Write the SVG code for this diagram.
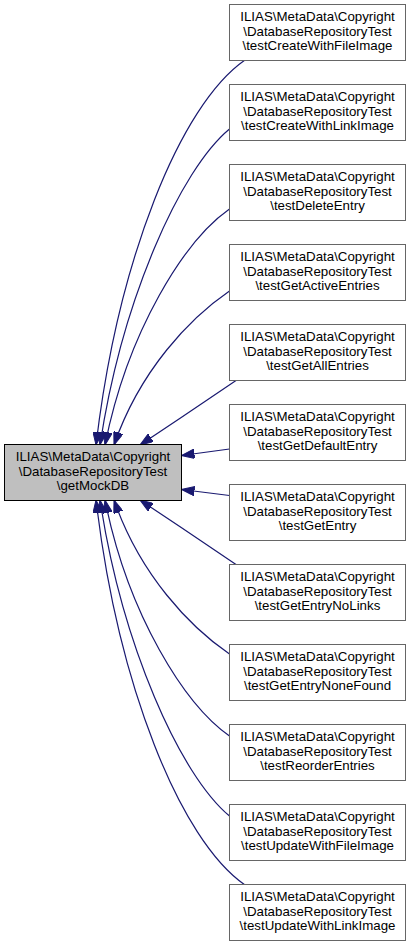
<svg xmlns="http://www.w3.org/2000/svg" width="412" height="947" viewBox="0 0 412 947">
<style>
.n rect{fill:#ffffff;stroke:#666666;stroke-width:1}
.cur rect{fill:#bfbfbf;stroke:#000000;stroke-width:1}
text{font-family:"Liberation Sans",Arial,sans-serif;font-size:13.3px;fill:#000;text-anchor:middle}
.e path{fill:none;stroke:#191970;stroke-width:1.2;marker-end:url(#ah)}
</style>
<defs>
<marker id="ah" viewBox="0 0 13 9.4" refX="13" refY="4.7" markerWidth="13" markerHeight="9.4" markerUnits="userSpaceOnUse" orient="auto">
<path d="M0,0 L13,4.7 L0,9.4 z" fill="#191970" stroke="#191970" stroke-width="1"/>
</marker>
</defs>
<rect width="412" height="947" fill="#ffffff"/>
<g id="edges" class="e">
<path d="M245,60 C180,105 118,260 96,445"/>
<path d="M229.5,129 C180,170 122,300 100,445"/>
<path d="M229.5,209 C185,240 128,330 105,445"/>
<path d="M229.5,291 C190,318 140,370 114,445"/>
<path d="M236,380.5 C210,398 170,425 140,445"/>
<path d="M229.5,449 L181.5,455.5"/>
<path d="M229.5,495.5 L181.5,489.5"/>
<path d="M236,564.5 C210,547 170,520 140,500"/>
<path d="M229.5,654 C190,627 140,575 114,500"/>
<path d="M229.5,736 C185,705 128,615 105,500"/>
<path d="M229.5,816 C180,775 122,645 100,500"/>
<path d="M245,885 C180,840 118,685 96,500"/>
</g>
<g id="getMockDB" class="cur">
<rect x="4.5" y="444.5" width="177" height="56"/>
<text x="93" y="461">ILIAS\MetaData\Copyright</text>
<text x="93" y="475.5">\DatabaseRepositoryTest</text>
<text x="93" y="490">\getMockDB</text>
</g>
<g id="n0" class="n">
<rect x="229.5" y="4.5" width="176" height="56"/>
<text x="317.5" y="21">ILIAS\MetaData\Copyright</text>
<text x="317.5" y="35.5">\DatabaseRepositoryTest</text>
<text x="317.5" y="50">\testCreateWithFileImage</text>
</g>
<g id="n1" class="n">
<rect x="229.5" y="84.5" width="176" height="56"/>
<text x="317.5" y="101">ILIAS\MetaData\Copyright</text>
<text x="317.5" y="115.5">\DatabaseRepositoryTest</text>
<text x="317.5" y="130">\testCreateWithLinkImage</text>
</g>
<g id="n2" class="n">
<rect x="229.5" y="164.5" width="176" height="56"/>
<text x="317.5" y="181">ILIAS\MetaData\Copyright</text>
<text x="317.5" y="195.5">\DatabaseRepositoryTest</text>
<text x="317.5" y="210">\testDeleteEntry</text>
</g>
<g id="n3" class="n">
<rect x="229.5" y="244.5" width="176" height="56"/>
<text x="317.5" y="261">ILIAS\MetaData\Copyright</text>
<text x="317.5" y="275.5">\DatabaseRepositoryTest</text>
<text x="317.5" y="290">\testGetActiveEntries</text>
</g>
<g id="n4" class="n">
<rect x="229.5" y="324.5" width="176" height="56"/>
<text x="317.5" y="341">ILIAS\MetaData\Copyright</text>
<text x="317.5" y="355.5">\DatabaseRepositoryTest</text>
<text x="317.5" y="370">\testGetAllEntries</text>
</g>
<g id="n5" class="n">
<rect x="229.5" y="404.5" width="176" height="56"/>
<text x="317.5" y="421">ILIAS\MetaData\Copyright</text>
<text x="317.5" y="435.5">\DatabaseRepositoryTest</text>
<text x="317.5" y="450">\testGetDefaultEntry</text>
</g>
<g id="n6" class="n">
<rect x="229.5" y="484.5" width="176" height="56"/>
<text x="317.5" y="501">ILIAS\MetaData\Copyright</text>
<text x="317.5" y="515.5">\DatabaseRepositoryTest</text>
<text x="317.5" y="530">\testGetEntry</text>
</g>
<g id="n7" class="n">
<rect x="229.5" y="564.5" width="176" height="56"/>
<text x="317.5" y="581">ILIAS\MetaData\Copyright</text>
<text x="317.5" y="595.5">\DatabaseRepositoryTest</text>
<text x="317.5" y="610">\testGetEntryNoLinks</text>
</g>
<g id="n8" class="n">
<rect x="229.5" y="644.5" width="176" height="56"/>
<text x="317.5" y="661">ILIAS\MetaData\Copyright</text>
<text x="317.5" y="675.5">\DatabaseRepositoryTest</text>
<text x="317.5" y="690">\testGetEntryNoneFound</text>
</g>
<g id="n9" class="n">
<rect x="229.5" y="724.5" width="176" height="56"/>
<text x="317.5" y="741">ILIAS\MetaData\Copyright</text>
<text x="317.5" y="755.5">\DatabaseRepositoryTest</text>
<text x="317.5" y="770">\testReorderEntries</text>
</g>
<g id="n10" class="n">
<rect x="229.5" y="804.5" width="176" height="56"/>
<text x="317.5" y="821">ILIAS\MetaData\Copyright</text>
<text x="317.5" y="835.5">\DatabaseRepositoryTest</text>
<text x="317.5" y="850">\testUpdateWithFileImage</text>
</g>
<g id="n11" class="n">
<rect x="229.5" y="884.5" width="176" height="56"/>
<text x="317.5" y="901">ILIAS\MetaData\Copyright</text>
<text x="317.5" y="915.5">\DatabaseRepositoryTest</text>
<text x="317.5" y="930">\testUpdateWithLinkImage</text>
</g>
</svg>
